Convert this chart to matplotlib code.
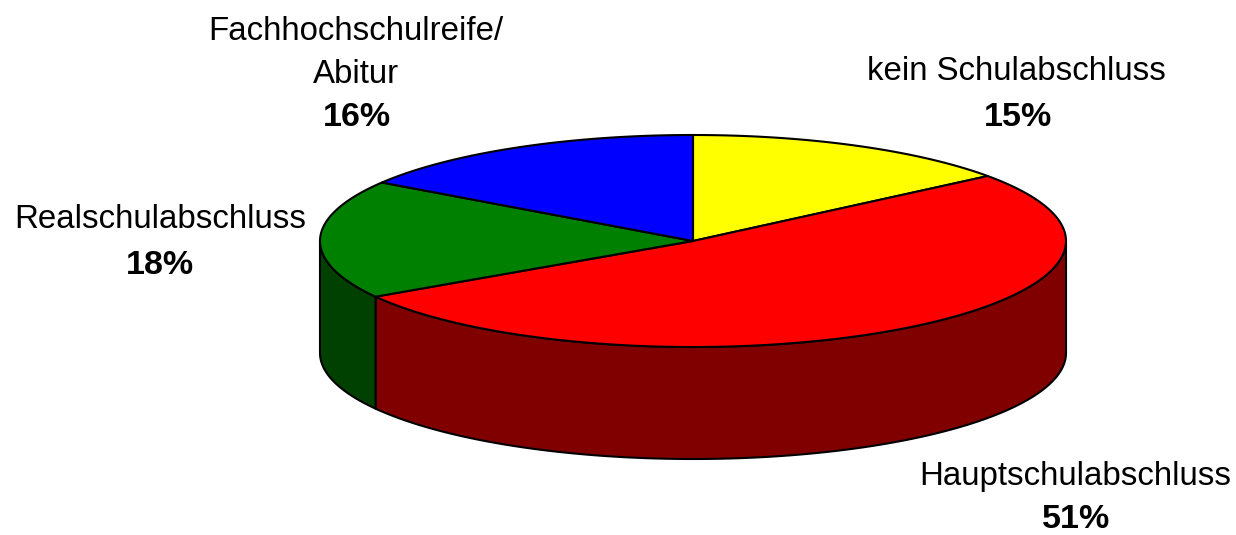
#!/usr/bin/env python3
"""3D-look pie chart of school leaving certificates."""

import numpy as np
import matplotlib
matplotlib.use("Agg")
import matplotlib.pyplot as plt

plt.rcParams['font.family'] = ['Liberation Sans', 'DejaVu Sans']

# data, clockwise from twelve o'clock
labels = ['kein Schulabschluss', 'Hauptschulabschluss', 'Realschulabschluss',
          'Fachhochschulreife/\nAbitur']
pct_labels = ['15%', '51%', '18%', '16%']
# wedge sizes, a bit off the printed percentages
shares = [14.5, 51.7, 18.1, 15.7]
top_colors = ['#ffff00', '#ff0000', '#008000', '#0000ff']
side_colors = ['#808000', '#800000', '#004000', '#000080']

# pie geometry in pixels
W, H = 1236, 535
CX, CY = 693, 241
RX, RY = 373, 106
DEPTH = 112

# label anchors, in pixels
label_pos = [(1016, 72), (1075, 477), (160, 219), (356, 53)]
pct_pos = [(1018, 118), (1076, 520), (160, 266), (357, 118)]


def ellipse_xy(a):
    """Angle is clockwise from top, in radians"""
    return CX + RX * np.sin(a), CY - RY * np.cos(a)


fig = plt.figure(figsize=(W / 100, H / 100), dpi=100)
ax = fig.add_axes([0, 0, 1, 1])
ax.set_xlim(0, W)
ax.set_ylim(H, 0)
ax.axis('off')

edges = np.cumsum([0] + shares) / sum(shares) * 2 * np.pi

# side walls first, only the front half of the rim shows
for i in range(len(shares)):
    a0 = max(edges[i], np.pi / 2)
    a1 = min(edges[i + 1], 3 * np.pi / 2)
    if a1 <= a0:
        continue
    a = np.linspace(a0, a1, 200)
    x, y = ellipse_xy(a)
    xs = np.concatenate([x, x[::-1]])
    ys = np.concatenate([y, y[::-1] + DEPTH])
    ax.fill(xs, ys, facecolor=side_colors[i], edgecolor='black', linewidth=1.5,
            joinstyle='round')

# top faces
for i in range(len(shares)):
    a = np.linspace(edges[i], edges[i + 1], 200)
    x, y = ellipse_xy(a)
    xs = np.concatenate([[CX], x])
    ys = np.concatenate([[CY], y])
    ax.fill(xs, ys, facecolor=top_colors[i], edgecolor='black', linewidth=1.5,
            joinstyle='round')

for i in range(len(shares)):
    ax.text(label_pos[i][0], label_pos[i][1], labels[i], ha='center', va='center',
            fontsize=23.8, linespacing=1.47, color='black')
    ax.text(pct_pos[i][0], pct_pos[i][1], pct_labels[i], ha='center', va='center',
            fontsize=24.5, fontweight='bold', color='black')

fig.savefig('out.png', dpi=100)
